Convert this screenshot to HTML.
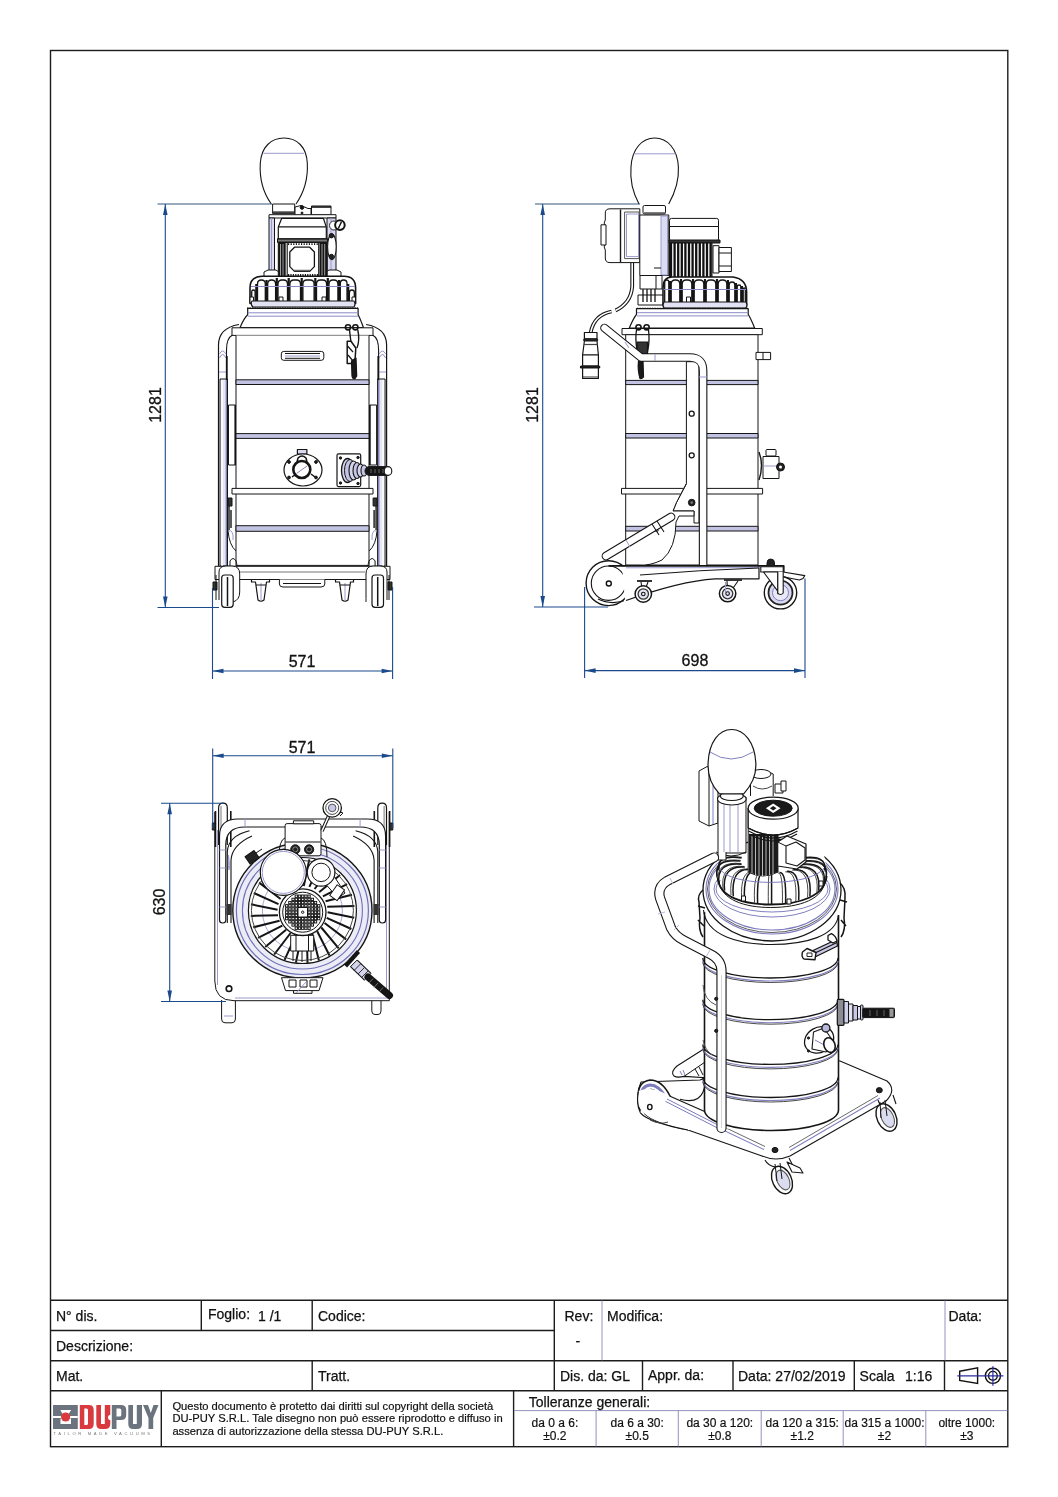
<!DOCTYPE html>
<html><head><meta charset="utf-8">
<style>
html,body{margin:0;padding:0;background:#fff;width:1058px;height:1497px;overflow:hidden}
svg{position:absolute;left:0;top:0;font-family:"Liberation Sans",sans-serif;will-change:transform}
</style></head><body>
<svg width="1058" height="1497" viewBox="0 0 1058 1497">

<!-- ===== FRONT VIEW ===== -->
<g id="front" fill="none" stroke="#151515" stroke-width="1" stroke-linejoin="round">
<!-- bulb -->
<path d="M271.3 204 C262 191 259.5 176 260.3 163 C261.5 147 271 138 284 138 C297 138 306.5 147 307.3 163 C308 176 305 191 296 204" stroke-width="1.1"/>
<line x1="263.5" y1="153.3" x2="304" y2="153.3" stroke="#9a9ad0"/>
<rect x="272.6" y="204" width="22.1" height="9.6" fill="#fff"/>
<line x1="273" y1="212.3" x2="294" y2="212.3" stroke-width="2" stroke="#444"/>
<path d="M295 207 L301 205.5 L308 208.5 L311 208.5 L311 216 L295 216 Z" fill="#fff"/>
<circle cx="302" cy="207.5" r="1.8" fill="#111"/>
<circle cx="302" cy="213" r="1" fill="#111"/>
<rect x="311.5" y="206" width="19.5" height="9" fill="#fff"/>
<line x1="311.5" y1="207" x2="331" y2="207" stroke-width="1.6"/>
<!-- posts -->
<rect x="269" y="214.7" width="67" height="3.3" fill="#fff"/>
<rect x="269" y="218" width="5.5" height="55" fill="#d8d8ee"/>
<rect x="327" y="218" width="9" height="56" fill="#d8d8ee"/>
<line x1="271.5" y1="218" x2="271.5" y2="272" stroke="#9a9ad0"/>
<line x1="331" y1="218" x2="331" y2="272" stroke="#9a9ad0"/>
<path d="M264 277 L264 272 L268 270 L276 270 L279 272 L279 277" fill="#fff"/>
<path d="M326 277 L326 272 L329 270 L337 270 L341 272 L341 277" fill="#fff"/>
<!-- motor -->
<path d="M281.7 218.3 L323.4 218.3 L326.3 227 V239 H278.3 V227 Z" fill="#fff" stroke-width="1.2"/>
<line x1="278.5" y1="226.8" x2="326" y2="226.8" stroke-width="1.3"/>
<rect x="277.5" y="238.7" width="50" height="3.8" fill="#444" stroke-width="1"/>
<line x1="278" y1="240.6" x2="327" y2="240.6" stroke="#999" stroke-width="0.7"/>
<rect x="278.3" y="242.5" width="48.9" height="34" fill="#fff"/>
<rect x="278.3" y="242.5" width="7.4" height="34" fill="#151515" stroke="none"/>
<rect x="319.5" y="242.5" width="7.7" height="34" fill="#151515" stroke="none"/>
<g stroke="#fff" stroke-width="0.6"><line x1="280.5" y1="244" x2="280.5" y2="276"/><line x1="283" y1="244" x2="283" y2="276"/><line x1="322" y1="244" x2="322" y2="276"/><line x1="324.7" y1="244" x2="324.7" y2="276"/></g>
<rect x="287.2" y="242.5" width="31.5" height="34" fill="#fff" stroke-width="1.1"/>
<line x1="288" y1="244.2" x2="318" y2="244.2" stroke-width="1.8" stroke-dasharray="1.2 1.4"/>
<line x1="288" y1="275" x2="318" y2="275" stroke-width="2" stroke-dasharray="1.2 1.2"/>
<path d="M294.5 247.2 L309.7 247.2 L314.4 252 L314.4 266.6 L309.7 271.4 L294.5 271.4 L289.8 266.6 L289.8 252 Z" stroke-width="1.3"/>
<line x1="294" y1="270.5" x2="310" y2="270.5" stroke="#666" stroke-width="1.5"/>
<!-- gauge & oval -->
<circle cx="334" cy="225.5" r="4.5" fill="#fff" stroke-width="0.9"/>
<circle cx="339.9" cy="225.1" r="4.8" fill="#fff" stroke-width="2"/>
<line x1="338.3" y1="228.5" x2="341.5" y2="221.7" stroke-width="1.5"/>
<ellipse cx="331.9" cy="246.8" rx="4.3" ry="12.8" fill="#fff" stroke-width="1.1"/>
<circle cx="331.4" cy="235.7" r="2.2" fill="#222"/>
<circle cx="331.4" cy="256.5" r="2.2" fill="#222"/>
<!-- fan cover -->
<path d="M250 303.5 V288 Q250 276.5 262 276.3 H344 Q355.6 276.5 355.6 288 V303.5 Z" fill="#fff" stroke-width="1.6"/>
<g stroke-width="1.3">
<path d="M251.7 301 V291.7 Q251.7 290 253.4 290 H253.4 Q255.1 290 255.1 291.7 V301"/>
<path d="M257.5 301 V283.9 Q257.5 280 261.4 280 H261.4 Q265.3 280 265.3 283.9 V301"/>
<path d="M267.7 301 V284.0 Q267.7 280 271.6 280 H271.6 Q275.6 280 275.6 284.0 V301"/>
<path d="M278.0 301 V284.0 Q278.0 280 282.0 280 H283.5 Q287.5 280 287.5 284.0 V301"/>
<path d="M289.9 301 V284.0 Q289.9 280 293.9 280 H296.5 Q300.5 280 300.5 284.0 V301"/>
<path d="M302.9 301 V284.0 Q302.9 280 306.9 280 H310.1 Q314.1 280 314.1 284.0 V301"/>
<path d="M316.5 301 V284.0 Q316.5 280 320.5 280 H322.6 Q326.6 280 326.6 284.0 V301"/>
<path d="M329.0 301 V284.0 Q329.0 280 333.0 280 H333.9 Q337.9 280 337.9 284.0 V301"/>
<path d="M340.3 301 V283.4 Q340.3 280 343.6 280 H343.6 Q347.0 280 347.0 283.4 V301"/>
<path d="M349.4 301 V292.5 Q349.4 290 351.9 290 H351.9 Q354.3 290 354.3 292.5 V301"/>
</g>
<g stroke-width="2.2">
<line x1="256.3" y1="284" x2="256.3" y2="301"/><line x1="266.5" y1="280" x2="266.5" y2="301"/><line x1="276.8" y1="278" x2="276.8" y2="301"/>
<line x1="288.7" y1="278" x2="288.7" y2="301"/><line x1="301.7" y1="278" x2="301.7" y2="301"/><line x1="315.3" y1="278" x2="315.3" y2="301"/>
<line x1="327.8" y1="278" x2="327.8" y2="301"/><line x1="339.1" y1="280" x2="339.1" y2="301"/><line x1="348.2" y1="284" x2="348.2" y2="301"/>
</g>
<line x1="251" y1="286.5" x2="355" y2="286.5" stroke="#8a8ac8"/>
<rect x="250" y="297" width="3.5" height="6" fill="#fff"/>
<rect x="279" y="297" width="4" height="6" fill="#fff"/>
<rect x="322" y="297" width="4" height="6" fill="#fff"/>
<rect x="352" y="297" width="3.5" height="6" fill="#fff"/>
<path d="M252 301 H354 Q356 304 354 307 H253 Q250 304 252 301 Z" fill="#e2e2f4" stroke-width="1.2"/>
<line x1="247" y1="308.3" x2="358" y2="308.3" stroke-width="1.8" stroke-dasharray="1.5 1"/>
<!-- lid -->
<path d="M247.7 308.3 H358.1 V314.7 Q360 318 363.4 327.5 H240.1 Q244 318 247.7 314.7 Z" fill="#fff" stroke-width="1.2"/>
<line x1="248" y1="312.8" x2="358" y2="312.8" stroke="#8a8ac8"/>
<line x1="248" y1="316.2" x2="358" y2="316.2" stroke="#8a8ac8"/>
<!-- frame tubes -->
<path d="M239 324.5 Q218.5 328 218.5 345 V566" stroke-width="1.2"/>
<path d="M232.5 335 Q226.5 338 226.5 350 V380" stroke-width="1.1"/>
<path d="M219.5 358 Q222.5 351 226 358" stroke="#8a8ac8"/>
<path d="M219.5 354 Q222.5 348 226 354" stroke="#9a9ad0"/>
<line x1="219" y1="372" x2="226" y2="372" stroke="#9a9ad0"/>
<rect x="220" y="379" width="7.5" height="187" fill="#e6e6f4"/>
<line x1="222" y1="380" x2="222" y2="566" stroke="#fff" stroke-width="1.5"/>
<line x1="226.3" y1="380" x2="226.3" y2="566" stroke="#7070a8" stroke-width="1.2"/>
<line x1="226.8" y1="356" x2="226.8" y2="380" stroke-width="1.8"/>
<rect x="228.5" y="405" width="7.0" height="60" fill="#fff"/>
<line x1="235.3" y1="405" x2="235.3" y2="465" stroke-width="1.8"/>
<rect x="228" y="498" width="4" height="8" fill="#333"/>
<path d="M229 506 V530 M231 510 V528" stroke-width="1.4"/>
<path d="M228 530 Q229 545 236 551" />
<path d="M228.5 532 Q231 528 233 535 V540" stroke="#9a9ad0" />
<path d="M230 566 V561 Q233 556 236 561 V566" fill="#fff"/>
<path d="M366.1 324.5 Q386.6 328 386.6 345 V566" stroke-width="1.2"/>
<path d="M372.6 335 Q378.6 338 378.6 350 V380" stroke-width="1.1"/>
<path d="M385.6 358 Q382.6 351 379.1 358" stroke="#8a8ac8"/>
<path d="M385.6 354 Q382.6 348 379.1 354" stroke="#9a9ad0"/>
<line x1="386.1" y1="372" x2="379.1" y2="372" stroke="#9a9ad0"/>
<rect x="377.6" y="379" width="7.5" height="187" fill="#e6e6f4"/>
<line x1="383.1" y1="380" x2="383.1" y2="566" stroke="#fff" stroke-width="1.5"/>
<line x1="378.8" y1="380" x2="378.8" y2="566" stroke="#7070a8" stroke-width="1.2"/>
<line x1="378.3" y1="356" x2="378.3" y2="380" stroke-width="1.8"/>
<rect x="369.6" y="405" width="7.0" height="60" fill="#fff"/>
<line x1="369.8" y1="405" x2="369.8" y2="465" stroke-width="1.8"/>
<rect x="373.1" y="498" width="4.0" height="8" fill="#333"/>
<path d="M376.1 506 V530 M374.1 510 V528" stroke-width="1.4"/>
<path d="M377.1 530 Q376.1 545 369.1 551" />
<path d="M376.6 532 Q374.1 528 372.1 535 V540" stroke="#9a9ad0" />
<path d="M375.1 566 V561 Q372.1 556 369.1 561 V566" fill="#fff"/>
<!-- rim & tank -->
<rect x="232" y="327.8" width="141" height="7.6" fill="#fff"/>
<path d="M236 335.4 V560 Q236 571 250 571 L355 571 Q369 571 369 560 V335.4" fill="#fff"/>
<rect x="281.3" y="351.4" width="42.5" height="8.9" rx="2.5" fill="#fff"/>
<line x1="285" y1="353.5" x2="320" y2="353.5"/>
<line x1="285" y1="358.3" x2="320" y2="358.3"/>
<line x1="285" y1="356" x2="320" y2="356" stroke="#9a9ad0"/>
<rect x="236" y="379.8" width="133" height="4.7" fill="#c2c2e2"/>
<rect x="236" y="433.6" width="133" height="4.8" fill="#c2c2e2"/>
<rect x="236" y="525.7" width="133" height="5.6" fill="#c2c2e2"/>
<rect x="232" y="488.4" width="141" height="5.6" fill="#fff"/>
<!-- latch -->
<circle cx="348" cy="327.3" r="2.6" stroke-width="1.6"/>
<circle cx="355.4" cy="327.3" r="2.6" stroke-width="1.6"/>
<path d="M349.5 330 L351.5 347 M357.8 330 Q360 340 357 348" stroke-width="1.4"/>
<path d="M347.2 341.3 H351 L355.8 348 L355 361 L352.4 363.4 H347.2 Z" fill="#fff" stroke-width="1.5"/>
<path d="M347.5 346 L353 352 M348 355 L353 361" stroke-width="1.2"/>
<path d="M351.5 361 L352 376 Q353 380 355 378.6 L356.7 376 L356 358 Z" fill="#1a1a1a" stroke-width="1.2"/>
<!-- inlet -->
<rect x="297.4" y="449.5" width="9.5" height="4.5" fill="#d8d8ee" stroke-width="1.2"/>
<ellipse cx="303" cy="470" rx="19" ry="16" fill="#fff" stroke-width="1.2"/>
<path d="M296 466 L298 458 Q302 454 306 458 L308 466" fill="#fff" stroke-width="1.5"/>
<circle cx="301.8" cy="469.5" r="8.5" fill="#fff" stroke-width="2.6"/>
<line x1="296.5" y1="473.5" x2="307" y2="466" stroke="#8888bb"/>
<path d="M292 477 L296 474 M311 474 L315 477" stroke-width="1.5"/>
<circle cx="289" cy="462" r="1.4" fill="#222"/>
<circle cx="316" cy="462" r="1.4" fill="#222"/>
<circle cx="289" cy="477.5" r="1.4" fill="#222"/>
<circle cx="316" cy="477.5" r="1.4" fill="#222"/>
<!-- socket -->
<rect x="337" y="453.9" width="23.7" height="32.7" rx="1.5" fill="#fff" stroke-width="1.2"/>
<circle cx="340.5" cy="458" r="1.2" fill="#222"/><circle cx="358" cy="457.5" r="1.2" fill="#222"/>
<circle cx="340.5" cy="483" r="1.2" fill="#222"/><circle cx="358" cy="483.5" r="1.2" fill="#222"/>
<ellipse cx="347.5" cy="470.5" rx="6" ry="12" fill="#d4d4ec" stroke-width="1.3"/>
<ellipse cx="350" cy="470.5" rx="5.5" ry="11" fill="#c4c4e4" stroke-width="1"/>
<ellipse cx="353.5" cy="470.5" rx="4.5" ry="9.5" fill="#d4d4ec" stroke-width="1.1"/>
<ellipse cx="357" cy="470.5" rx="4" ry="8" fill="#c4c4e4" stroke-width="1.1"/>
<ellipse cx="360.5" cy="470.5" rx="3.5" ry="6.5" fill="#d4d4ec" stroke-width="1.1"/>
<ellipse cx="364" cy="470.5" rx="3" ry="5.5" fill="#c4c4e4" stroke-width="1.1"/>
<rect x="365" y="466.6" width="26" height="8.8" rx="4.4" fill="#151515"/>
<ellipse cx="388" cy="471" rx="3.8" ry="4.4" fill="#fff" stroke-width="1.1"/>
<g stroke="#888" stroke-width="0.7"><line x1="371" y1="469" x2="371" y2="473"/><line x1="375" y1="469" x2="375" y2="473"/><line x1="379" y1="469" x2="379" y2="473"/><line x1="383" y1="469" x2="383" y2="473"/></g>
<!-- base & wheels -->
<path d="M236 565.4 H369" />
<rect x="215" y="566.3" width="175" height="13.2" fill="#fff"/>
<path d="M240 572 H365" stroke="#777"/>
<path d="M279.4 579.5 V584 Q279.4 587 283 587 H321 Q324.8 587 324.8 584 V579.5" fill="#fff"/>
<line x1="283" y1="583.5" x2="321" y2="583.5"/>
<path d="M251.5 579.5 H269.5 V582 H266.5 L264 600 Q261 602.5 258 600 L255.5 582 H251.5 Z" fill="#fff" stroke-width="1.2"/><line x1="261" y1="583" x2="261" y2="600" stroke="#9a9ad0"/>
<path d="M335.5 579.5 H353.5 V582 H350.5 L348 600 Q345 602.5 342 600 L339.5 582 H335.5 Z" fill="#fff" stroke-width="1.2"/><line x1="345" y1="583" x2="345" y2="600" stroke="#9a9ad0"/>
<line x1="256" y1="585" x2="266" y2="585"/><line x1="340" y1="585" x2="350" y2="585"/>
<!-- left wheel -->
<path d="M219 600 V572 Q219 566 226 566 H232 Q239.7 566 239.7 574 V592 Q239.7 600 233 602" fill="#fff"/>
<rect x="221.7" y="575" width="11.5" height="32.3" rx="3" fill="#fff" stroke-width="1.2"/>
<line x1="227.5" y1="577" x2="227.5" y2="606" stroke-width="1.5"/>
<rect x="213" y="582" width="4" height="8" fill="#333"/>
<line x1="216" y1="575" x2="216" y2="600"/>
<!-- right wheel -->
<path d="M366 602 Q366 600 366 592 V574 Q366 566 373 566 H380 Q387 566 387 572 V600" fill="#fff"/>
<rect x="372" y="575" width="11.5" height="32.3" rx="3" fill="#fff" stroke-width="1.2"/>
<line x1="377.7" y1="577" x2="377.7" y2="606" stroke-width="1.5"/>
<rect x="388" y="582" width="4" height="8" fill="#333"/>
<line x1="389" y1="575" x2="389" y2="600"/>
</g>
<!-- front dims -->
<g stroke="#1b4a8c" stroke-width="1.1" fill="#1b4a8c">
<line x1="157.5" y1="204" x2="272" y2="204" stroke="#34557e"/>
<line x1="157.5" y1="607.5" x2="219" y2="607.5"/>
<line x1="165.3" y1="204" x2="165.3" y2="607.5"/>
<path d="M165.3 204 L163 215 L167.6 215 Z" stroke="none"/>
<path d="M165.3 607.5 L163 596.5 L167.6 596.5 Z" stroke="none"/>
<line x1="212.5" y1="588" x2="212.5" y2="679"/>
<line x1="392.6" y1="587" x2="392.6" y2="679"/>
<line x1="212.5" y1="671" x2="392.6" y2="671"/>
<path d="M212.5 671 L223.5 668.7 L223.5 673.3 Z" stroke="none"/>
<path d="M392.6 671 L381.6 668.7 L381.6 673.3 Z" stroke="none"/>
</g>
<g fill="#111" font-size="16" stroke="#111" stroke-width="0.3">
<text x="288.7" y="666.6">571</text>
<text transform="translate(160.5 405) rotate(-90)" text-anchor="middle">1281</text>
</g>


<!-- ===== SIDE VIEW ===== -->
<g id="side" fill="none" stroke="#151515" stroke-width="1" stroke-linejoin="round">
<!-- cable -->
<path d="M632.2 262 V286.6 Q631 303 615.5 310.5" stroke-width="3.8"/>
<path d="M632.2 262 V286.6 Q631 303 615.5 310.5" stroke="#fff" stroke-width="1.6"/>
<path d="M611.5 311.5 Q594 315 590.7 332.5" stroke-width="3.8"/>
<path d="M611.5 311.5 Q594 315 590.7 332.5" stroke="#fff" stroke-width="1.6"/>
<!-- plug -->
<rect x="584.4" y="332.5" width="12.6" height="6.4" fill="#fff" stroke-width="1.2"/>
<rect x="583.8" y="339" width="13.8" height="1.8" fill="#333"/>
<path d="M584.4 341 H597 L598.4 355 H582.6 Z" fill="#fff" stroke-width="1.2"/>
<line x1="584" y1="344.5" x2="597.5" y2="344.5" stroke="#444" stroke-width="1.2"/>
<rect x="582.6" y="355" width="15.8" height="11" fill="#fff" stroke-width="1.2"/>
<rect x="580.4" y="366" width="19.4" height="2" rx="1" fill="#222" stroke-width="1.2"/>
<rect x="582.6" y="368" width="15.8" height="10.5" fill="#fff" stroke-width="1.2"/>
<line x1="583" y1="377" x2="598" y2="377" stroke="#333"/>
<!-- bulb -->
<path d="M639 204 C632 191 630 178 631 167 C632 149 642 138 654.7 138 C667.5 138 677.5 149 678.4 167 C679 178 676 191 668.7 204" stroke-width="1.1"/>
<line x1="634" y1="153.8" x2="675.5" y2="153.8" stroke="#9a9ad0"/>
<rect x="643" y="205.5" width="22.5" height="8.5" rx="1.5" fill="#fff"/>
<line x1="644" y1="213" x2="665" y2="213" stroke="#555" stroke-width="1.5"/>
<!-- control box -->
<path d="M610 208.8 H639.8 V262.6 H610 Q605.3 262.6 605.3 258 V250 Q603 247 605.3 244 V226 Q603 223 605.3 220 V213 Q605.3 208.8 610 208.8 Z" fill="#fff"/>
<rect x="624.6" y="212" width="14.4" height="46.6" fill="#fff" stroke="#555"/>
<rect x="626.5" y="214" width="12" height="42.6" fill="none" stroke="#9a9ad0"/>
<line x1="620.5" y1="209.5" x2="620.5" y2="262" stroke-width="1.4"/>
<rect x="601" y="224.8" width="5" height="20.2" fill="#fff"/>
<!-- column -->
<rect x="639.8" y="215" width="29" height="60.5" fill="#fff"/>
<rect x="661" y="216" width="6.5" height="59" fill="#dcdcf0" stroke="#9a9ad0"/>
<path d="M640 275.5 H662 V289 H640 Z" fill="#fff"/>
<line x1="656" y1="276" x2="656" y2="289"/>
<path d="M643 289 V302 M647 289 V302 M651 289 V302 M655 289 V302" stroke-width="1.3"/>
<path d="M638 295 H664 V305 H638 Z" fill="none"/>
<line x1="654" y1="268" x2="661" y2="268"/>
<!-- motor -->
<rect x="669.5" y="218.4" width="49" height="22.6" rx="2" fill="#fff"/>
<line x1="670" y1="226.5" x2="718" y2="226.5"/>
<rect x="669" y="240" width="51" height="3" fill="#333"/>
<rect x="669.5" y="243" width="42.5" height="35" fill="#fff"/>
<g stroke="#111" stroke-width="2.3"><line x1="671.0" y1="243" x2="671.0" y2="278"/><line x1="674.6" y1="243" x2="674.6" y2="278"/><line x1="678.2" y1="243" x2="678.2" y2="278"/><line x1="681.8" y1="243" x2="681.8" y2="278"/><line x1="685.4" y1="243" x2="685.4" y2="278"/><line x1="689.0" y1="243" x2="689.0" y2="278"/><line x1="692.6" y1="243" x2="692.6" y2="278"/><line x1="696.2" y1="243" x2="696.2" y2="278"/><line x1="699.8" y1="243" x2="699.8" y2="278"/><line x1="703.4" y1="243" x2="703.4" y2="278"/><line x1="707.0" y1="243" x2="707.0" y2="278"/><line x1="710.6" y1="243" x2="710.6" y2="278"/></g>
<rect x="713" y="245.7" width="6" height="27.3" fill="#fff"/>
<rect x="719" y="247.5" width="12.4" height="24" fill="#fff"/>
<line x1="719" y1="253" x2="731.4" y2="253"/><line x1="719" y1="266" x2="731.4" y2="266"/>
<!-- fan cover -->
<path d="M663 305 V288 Q663 277 672 277 H733 Q746.6 279 746.6 292 V305 Z" fill="#fff" stroke-width="1.6"/>
<g stroke-width="1.3">
<path d="M664.7 302 V282.0 Q664.7 280 666.8 280 H666.8 Q668.8 280 668.8 282.0 V302"/>
<path d="M671.2 302 V284.0 Q671.2 280 675.2 280 H675.8 Q679.8 280 679.8 284.0 V302"/>
<path d="M682.2 302 V284.0 Q682.2 280 686.2 280 H687.8 Q691.8 280 691.8 284.0 V302"/>
<path d="M694.2 302 V284.0 Q694.2 280 698.2 280 H699.8 Q703.8 280 703.8 284.0 V302"/>
<path d="M706.2 302 V284.0 Q706.2 280 710.2 280 H711.8 Q715.8 280 715.8 284.0 V302"/>
<path d="M718.2 302 V284.0 Q718.2 280 722.2 280 H722.8 Q726.8 280 726.8 284.0 V302"/>
<path d="M729.2 302 V284.8 Q729.2 282 732.0 282 H732.0 Q734.8 282 734.8 284.8 V302"/>
<path d="M737.2 302 V286.8 Q737.2 285 739.0 285 H739.0 Q740.8 285 740.8 286.8 V302"/>
<path d="M743.2 302 V289.0 Q743.2 288 744.2 288 H744.2 Q745.3 288 745.3 289.0 V302"/>
</g>
<g stroke-width="2.1">
<line x1="670" y1="281" x2="670" y2="302"/><line x1="681" y1="279" x2="681" y2="302"/><line x1="693" y1="279" x2="693" y2="302"/><line x1="705" y1="279" x2="705" y2="302"/><line x1="717" y1="279" x2="717" y2="302"/><line x1="728" y1="280" x2="728" y2="302"/><line x1="736" y1="283" x2="736" y2="302"/><line x1="742" y1="286" x2="742" y2="302"/>
</g>
<line x1="664" y1="289.5" x2="746" y2="289.5" stroke="#8a8ac8"/>
<rect x="686.5" y="297" width="4" height="6" fill="#fff"/>
<path d="M664 302 H746 Q748 305 746 308 H664 Q662 305 664 302 Z" fill="#e2e2f4" stroke-width="1.2"/>
<line x1="637" y1="308.5" x2="748" y2="308.5" stroke-width="1.6" stroke-dasharray="1.5 1"/>
<!-- lid -->
<path d="M636.5 308.7 H748.2 V314.3 Q751 319 754.6 328 H629.3 Q633 319 636.5 314.3 Z" fill="#fff" stroke-width="1.2"/>
<line x1="637" y1="312.7" x2="748" y2="312.7" stroke="#8a8ac8"/>
<line x1="637" y1="315.9" x2="748" y2="315.9" stroke="#8a8ac8"/>
<rect x="622" y="328.5" width="140.3" height="6.2" fill="#fff"/>
<!-- tank -->
<rect x="625.7" y="334.7" width="132.3" height="230.3" fill="#fff"/>
<rect x="625.7" y="380.4" width="132.3" height="4.2" fill="#c2c2e2"/>
<rect x="625.7" y="433.5" width="132.3" height="4.5" fill="#c2c2e2"/>
<rect x="625.7" y="526.3" width="132.3" height="4.7" fill="#c2c2e2"/>
<rect x="621.5" y="488.4" width="141.1" height="5.6" fill="#fff"/>
<rect x="756" y="352.4" width="14.6" height="7.2" fill="#fff"/>
<line x1="763" y1="352.4" x2="763" y2="359.6"/>
<!-- right socket -->
<path d="M759 452 Q764 465 759 480" stroke-width="1.4"/>
<rect x="766" y="449.5" width="10" height="6.5" rx="1" fill="#fff"/>
<rect x="763" y="456.5" width="16" height="22" fill="#fff"/>
<line x1="763" y1="466" x2="779" y2="466" stroke="#9a9ad0"/>
<circle cx="780.5" cy="467" r="4" fill="#222"/>
<circle cx="780.5" cy="467" r="1.5" fill="#fff" stroke="none"/>
<!-- clamp -->
<circle cx="638.5" cy="327.3" r="2.6" stroke-width="1.6"/>
<circle cx="646.6" cy="327.3" r="2.6" stroke-width="1.6"/>
<path d="M636.5 330 Q635 338 637 350 M648.5 330 Q650 340 647.5 352" stroke-width="1.3"/>
<path d="M637 342 H647.5 V354 H637 Z" fill="#333" stroke-width="1.2"/>
<path d="M638.5 361 Q637.5 370 640 378.5 Q642 379 643.5 377 L643 361 Z" fill="#1a1a1a" stroke-width="1.2"/>
<!-- handle tube -->
<path d="M686.4 361.7 H699 V523 H694 V511 H673 L676.4 502.6 L686.4 483.7 Z" fill="#fff"/>
<path d="M604.5 328 L641 357.5 H690 Q703.1 357.5 703.1 371 V565.5" stroke-width="8.6" stroke-linecap="round"/>
<path d="M604.5 328 L641 357.5 H690 Q703.1 357.5 703.1 371 V565.5" stroke="#fff" stroke-width="6.4" stroke-linecap="round"/>
<line x1="625" y1="342" x2="629" y2="348" stroke="#9a9ad0"/>
<line x1="655" y1="354" x2="655" y2="361" stroke="#9a9ad0"/>
<line x1="699" y1="377" x2="707" y2="377" stroke="#9a9ad0"/>
<circle cx="691.7" cy="413.7" r="2.5" stroke-width="1.3"/>
<circle cx="691.7" cy="455.3" r="2.5" stroke-width="1.3"/>
<!-- lever -->
<path d="M686.4 483.7 L676.4 502.6 L673 511 H694 V516 H679 L676 522 Q676 548 662 560 Q650 566 638.5 565" fill="#fff"/>
<path d="M606 556 L671 517" stroke-width="8.8" stroke-linecap="round"/>
<path d="M606 556 L671 517" stroke="#fff" stroke-width="6.6" stroke-linecap="round"/>
<path d="M652 524 L659 535 M657 521 L664 532" stroke-width="1.1"/>
<line x1="626" y1="540" x2="630" y2="547" stroke="#9a9ad0"/>
<circle cx="691.7" cy="502.6" r="3.3" fill="#222"/>
<circle cx="691.7" cy="502.6" r="1.3" fill="#777" stroke="none"/>
<!-- chassis -->
<circle cx="608.5" cy="583.2" r="22.4" fill="#fff" stroke-width="1.4"/>
<circle cx="608.5" cy="583.2" r="17.2" fill="#fff" stroke-width="1.1"/>
<path d="M622 566.2 H783.7 V572 H759 V578.8 H715 Q680 581 625 600" fill="#fff" stroke="none"/>
<path d="M608.5 565.8 H783.7 V572" stroke-width="1.8"/>
<path d="M759 566.2 V578.8 H715 Q680 581 626 600.5" stroke-width="1.2"/>
<path d="M626 567.8 L763.5 567.6" stroke="#9a9ad0"/>
<path d="M640 575 Q700 570 759 568" stroke-width="1"/>
<path d="M624 600.8 Q610 605 598 599" stroke-width="1.2"/>
<circle cx="608.8" cy="583.5" r="2.5" stroke-width="1.4"/>
<!-- small caster 1 -->
<path d="M637 580 H652 V582 H637 Z" fill="#333" stroke="none"/>
<path d="M641 582 L643 594 M648 582 L645 590" stroke-width="1.1"/>
<circle cx="643.3" cy="594" r="8.2" fill="#fff" stroke-width="1.5"/>
<circle cx="643.3" cy="594" r="5.2" fill="#e4e4f4" stroke="#333" stroke-width="1.3"/>
<circle cx="643.3" cy="594" r="1.8" stroke-width="1.1"/>
<!-- small caster 2 -->
<path d="M724 578.8 H742 V581 H724 Z" fill="#333" stroke="none"/>
<path d="M727 581 L727.6 593 M738 581 L731 591" stroke-width="1.1"/>
<circle cx="727.6" cy="593.6" r="8.2" fill="#fff" stroke-width="1.5"/>
<circle cx="727.6" cy="593.6" r="5.2" fill="#e4e4f4" stroke="#333" stroke-width="1.3"/>
<circle cx="727.6" cy="593.6" r="1.8" stroke-width="1.1"/>
<line x1="725.5" y1="582" x2="725.5" y2="592" stroke="#9a9ad0"/>
<!-- right caster -->
<path d="M770.7 559 Q774.5 559 774.5 563 V566 H767 V563 Q767 559 770.7 559 Z" fill="#222"/>
<path d="M760.8 566.7 H783.2 V572 H760.8 Z" fill="#fff" stroke-width="1.1"/>
<path d="M783.2 572 L804.8 575.6 L803 578.5 L799.4 580 L784 577" fill="#fff" stroke-width="1.1"/>
<circle cx="780.5" cy="592.7" r="16.2" fill="#fff" stroke-width="1.4"/>
<circle cx="780.5" cy="592.7" r="12" fill="#d8d8ee" stroke="#222" stroke-width="1.8"/>
<circle cx="780.5" cy="592.7" r="8" fill="#e8e8f6" stroke="#8080c0"/>
<path d="M763.5 572 L779.6 593.6 L777.8 593.6 L777.8 572 Z" fill="#fff" stroke-width="1.1"/>
<path d="M777.8 572 V593 Q780.5 596 783.2 593 V572" fill="#fff" stroke-width="1.1"/>
</g>
<!-- side dims -->
<g stroke="#1b4a8c" stroke-width="1.1" fill="#1b4a8c">
<line x1="535" y1="204" x2="640" y2="204" stroke="#34557e"/>
<line x1="534" y1="607" x2="608" y2="607"/>
<line x1="542.7" y1="204" x2="542.7" y2="607"/>
<path d="M542.7 204 L540.4 215 L545 215 Z" stroke="none"/>
<path d="M542.7 607 L540.4 596 L545 596 Z" stroke="none"/>
<line x1="584.6" y1="587" x2="584.6" y2="678"/>
<line x1="805" y1="578.4" x2="805" y2="678"/>
<line x1="584.6" y1="670.6" x2="805" y2="670.6"/>
<path d="M584.6 670.6 L595.6 668.3 L595.6 672.9 Z" stroke="none"/>
<path d="M805 670.6 L794 668.3 L794 672.9 Z" stroke="none"/>
</g>
<g fill="#111" font-size="16" stroke="#111" stroke-width="0.3">
<text x="681.6" y="666.3">698</text>
<text transform="translate(538 405) rotate(-90)" text-anchor="middle">1281</text>
</g>


<!-- ===== TOP VIEW ===== -->
<g id="top" fill="none" stroke="#151515" stroke-width="1" stroke-linejoin="round">
<!-- casters below base -->
<path d="M221.6 1000 V1019 Q221.6 1022.8 225 1022.8 H232 Q235.4 1022.8 235.4 1019 V1000" fill="#fff"/>
<line x1="224" y1="1016" x2="233" y2="1016" stroke="#9a9ad0"/>
<path d="M371.8 1000 V1011 Q371.8 1014.5 375 1014.5 H378 Q381 1014.5 381 1011 V1000" fill="#fff"/>
<!-- base plate -->
<path d="M214.8 812 V981 Q214.8 1000.7 234 1000.7 H389.3 V812" fill="#fff"/>
<line x1="217.5" y1="830" x2="217.5" y2="985" stroke="#9a9ad0"/>
<line x1="386.5" y1="830" x2="386.5" y2="995" stroke="#9a9ad0"/>
<line x1="235" y1="998" x2="388" y2="998" stroke="#9a9ad0"/>
<circle cx="229" cy="988.7" r="2.8" stroke-width="1.6"/>
<!-- side wheels -->
<path d="M218.6 845 V808 Q218.6 803.2 223 803.2 Q227.3 803.2 227.3 808 V845" fill="#fff" stroke-width="1.2"/>
<line x1="221" y1="806" x2="221" y2="842" stroke="#555" stroke-width="0.8"/>
<path d="M215.5 811 V847 M230.8 811 V847" stroke-width="1.6"/>
<rect x="212.3" y="823" width="3" height="7" fill="#333"/>
<path d="M386.5 845 V808 Q386.5 803.2 382.1 803.2 Q377.8 803.2 377.8 808 V845" fill="#fff" stroke-width="1.2"/>
<line x1="384.1" y1="806" x2="384.1" y2="842" stroke="#555" stroke-width="0.8"/>
<path d="M389.6 811 V847 M374.3 811 V847" stroke-width="1.6"/>
<rect x="389.8" y="823" width="3" height="7" fill="#333"/>
<!-- handle U frame -->
<path d="M219.5 920 V836 Q219.5 819 238 819 H367.1 Q385.6 819 385.6 836 V920 Q385.6 923 382.5 923 Q379.3 923 379.3 920 V845 Q379.3 827 360.1 827 H245 Q225.8 827 225.8 845 V920 Q225.8 923 222.6 923 Q219.5 923 219.5 920 Z" fill="#fff" stroke-width="1.2"/>
<g stroke="#9a9ad0"><line x1="219.5" y1="850" x2="225.8" y2="850"/><line x1="219.5" y1="868" x2="225.8" y2="868"/><line x1="219.5" y1="907" x2="225.8" y2="907"/><line x1="245" y1="819" x2="245" y2="827"/>
<line x1="385.6" y1="850" x2="379.3" y2="850"/><line x1="385.6" y1="868" x2="379.3" y2="868"/><line x1="385.6" y1="907" x2="379.3" y2="907"/><line x1="360.1" y1="819" x2="360.1" y2="827"/></g>
<path d="M227.3 923 V852 Q228 836 249.5 830.8 M231 923 V860 Q232 845 252 836" stroke-width="1.1"/>
<path d="M377.8 923 V852 Q377.1 836 355.6 830.8 M374.1 923 V860 Q373.1 845 353.1 836" stroke-width="1.1"/>
<path d="M228.5 855 Q230 868 229 870 Q228 868 228.5 855" stroke="#9a9ad0"/>
<rect x="226.5" y="904" width="5" height="11" fill="#333" stroke="none"/>
<rect x="373.6" y="904" width="5" height="11" fill="#333" stroke="none"/>
<!-- ring -->
<ellipse cx="302.4" cy="910.5" rx="69.6" ry="67.5" fill="#ececf7" stroke-width="1.4"/>
<ellipse cx="302.4" cy="910.5" rx="66" ry="64" fill="none" stroke="#7070b8" stroke-width="1.2"/>
<ellipse cx="302.4" cy="910.5" rx="60" ry="58.5" fill="none" stroke="#7070b8" stroke-width="1.1"/>
<ellipse cx="302.4" cy="910.5" rx="54" ry="53" fill="#fff" stroke-width="1.2"/>
<ellipse cx="302.4" cy="911" rx="40" ry="40" fill="none" stroke="#a8a8d8"/>
<path d="M327.6 912.2 L354.2 917.7 M326.7 917.8 L351.4 929.0 M324.6 923.0 L346.1 939.4 M321.3 927.5 L338.7 948.4 M317.2 931.3 L329.5 955.5 M312.3 934.0 L318.9 960.4 M306.9 935.6 L307.5 962.8 M301.4 936.0 L295.9 962.6 M295.8 935.1 L284.6 959.8 M290.6 933.0 L274.2 954.5 M286.1 929.7 L265.2 947.1 M282.3 925.6 L258.1 937.9 M279.6 920.7 L253.2 927.3 M278.0 915.3 L250.8 915.9 M277.6 909.8 L251.0 904.3 M278.5 904.2 L253.8 893.0 M280.6 899.0 L259.1 882.6 M283.9 894.5 L266.5 873.6 M288.0 890.7 L275.7 866.5 M292.9 888.0 L286.3 861.6 M298.3 886.4 L297.7 859.2 M303.8 886.0 L309.3 859.4 M309.4 886.9 L320.6 862.2 M314.6 889.0 L331.0 867.5 M319.1 892.3 L340.0 874.9 M322.9 896.4 L347.1 884.1 M325.6 901.3 L352.0 894.7 M327.2 906.7 L354.4 906.1" stroke-width="2"/>
<ellipse cx="302.4" cy="910.5" rx="51" ry="50" fill="none" stroke="#444"/>
<!-- bottom tab -->
<path d="M281.5 977.7 H323 L319 990.6 H285.5 Z" fill="#fff"/>
<rect x="289" y="980" width="7" height="7" fill="none"/><rect x="300" y="980" width="7" height="7" fill="none"/><rect x="310" y="980" width="7" height="7" fill="none"/>
<path d="M293.5 990.6 V993.3 H312 V990.6" />
<path d="M296 993 L306 982" stroke="#9a9ad0"/>
<!-- bottom block -->
<rect x="290.7" y="935.3" width="23" height="15.7" fill="#fff"/>
<line x1="296" y1="935.3" x2="296" y2="951"/><line x1="308.5" y1="935.3" x2="308.5" y2="951"/>
<path d="M293 951 V961 M302 951 V962 M311 951 V961"/>
<!-- motor -->
<circle cx="302.7" cy="912.2" r="23.3" fill="#fff" stroke-width="1.3"/>
<circle cx="302.7" cy="912.2" r="20" fill="#fff"/>
<g fill="#151515" stroke="none">
<rect x="285.05" y="904.15" width="3.3" height="3.3"/>
<rect x="285.05" y="907.35" width="3.3" height="3.3"/>
<rect x="285.05" y="910.55" width="3.3" height="3.3"/>
<rect x="285.05" y="913.75" width="3.3" height="3.3"/>
<rect x="285.05" y="916.95" width="3.3" height="3.3"/>
<rect x="288.25" y="900.95" width="3.3" height="3.3"/>
<rect x="288.25" y="904.15" width="3.3" height="3.3"/>
<rect x="288.25" y="907.35" width="3.3" height="3.3"/>
<rect x="288.25" y="910.55" width="3.3" height="3.3"/>
<rect x="288.25" y="913.75" width="3.3" height="3.3"/>
<rect x="288.25" y="916.95" width="3.3" height="3.3"/>
<rect x="288.25" y="920.15" width="3.3" height="3.3"/>
<rect x="291.45" y="897.75" width="3.3" height="3.3"/>
<rect x="291.45" y="900.95" width="3.3" height="3.3"/>
<rect x="291.45" y="904.15" width="3.3" height="3.3"/>
<rect x="291.45" y="907.35" width="3.3" height="3.3"/>
<rect x="291.45" y="910.55" width="3.3" height="3.3"/>
<rect x="291.45" y="913.75" width="3.3" height="3.3"/>
<rect x="291.45" y="916.95" width="3.3" height="3.3"/>
<rect x="291.45" y="920.15" width="3.3" height="3.3"/>
<rect x="291.45" y="923.35" width="3.3" height="3.3"/>
<rect x="294.65" y="894.55" width="3.3" height="3.3"/>
<rect x="294.65" y="897.75" width="3.3" height="3.3"/>
<rect x="294.65" y="900.95" width="3.3" height="3.3"/>
<rect x="294.65" y="904.15" width="3.3" height="3.3"/>
<rect x="294.65" y="907.35" width="3.3" height="3.3"/>
<rect x="294.65" y="910.55" width="3.3" height="3.3"/>
<rect x="294.65" y="913.75" width="3.3" height="3.3"/>
<rect x="294.65" y="916.95" width="3.3" height="3.3"/>
<rect x="294.65" y="920.15" width="3.3" height="3.3"/>
<rect x="294.65" y="923.35" width="3.3" height="3.3"/>
<rect x="294.65" y="926.55" width="3.3" height="3.3"/>
<rect x="297.85" y="894.55" width="3.3" height="3.3"/>
<rect x="297.85" y="897.75" width="3.3" height="3.3"/>
<rect x="297.85" y="900.95" width="3.3" height="3.3"/>
<rect x="297.85" y="904.15" width="3.3" height="3.3"/>
<rect x="297.85" y="907.35" width="3.3" height="3.3"/>
<rect x="297.85" y="910.55" width="3.3" height="3.3"/>
<rect x="297.85" y="913.75" width="3.3" height="3.3"/>
<rect x="297.85" y="916.95" width="3.3" height="3.3"/>
<rect x="297.85" y="920.15" width="3.3" height="3.3"/>
<rect x="297.85" y="923.35" width="3.3" height="3.3"/>
<rect x="297.85" y="926.55" width="3.3" height="3.3"/>
<rect x="301.05" y="894.55" width="3.3" height="3.3"/>
<rect x="301.05" y="897.75" width="3.3" height="3.3"/>
<rect x="301.05" y="900.95" width="3.3" height="3.3"/>
<rect x="301.05" y="904.15" width="3.3" height="3.3"/>
<rect x="301.05" y="907.35" width="3.3" height="3.3"/>
<rect x="301.05" y="910.55" width="3.3" height="3.3"/>
<rect x="301.05" y="913.75" width="3.3" height="3.3"/>
<rect x="301.05" y="916.95" width="3.3" height="3.3"/>
<rect x="301.05" y="920.15" width="3.3" height="3.3"/>
<rect x="301.05" y="923.35" width="3.3" height="3.3"/>
<rect x="301.05" y="926.55" width="3.3" height="3.3"/>
<rect x="304.25" y="894.55" width="3.3" height="3.3"/>
<rect x="304.25" y="897.75" width="3.3" height="3.3"/>
<rect x="304.25" y="900.95" width="3.3" height="3.3"/>
<rect x="304.25" y="904.15" width="3.3" height="3.3"/>
<rect x="304.25" y="907.35" width="3.3" height="3.3"/>
<rect x="304.25" y="910.55" width="3.3" height="3.3"/>
<rect x="304.25" y="913.75" width="3.3" height="3.3"/>
<rect x="304.25" y="916.95" width="3.3" height="3.3"/>
<rect x="304.25" y="920.15" width="3.3" height="3.3"/>
<rect x="304.25" y="923.35" width="3.3" height="3.3"/>
<rect x="304.25" y="926.55" width="3.3" height="3.3"/>
<rect x="307.45" y="894.55" width="3.3" height="3.3"/>
<rect x="307.45" y="897.75" width="3.3" height="3.3"/>
<rect x="307.45" y="900.95" width="3.3" height="3.3"/>
<rect x="307.45" y="904.15" width="3.3" height="3.3"/>
<rect x="307.45" y="907.35" width="3.3" height="3.3"/>
<rect x="307.45" y="910.55" width="3.3" height="3.3"/>
<rect x="307.45" y="913.75" width="3.3" height="3.3"/>
<rect x="307.45" y="916.95" width="3.3" height="3.3"/>
<rect x="307.45" y="920.15" width="3.3" height="3.3"/>
<rect x="307.45" y="923.35" width="3.3" height="3.3"/>
<rect x="307.45" y="926.55" width="3.3" height="3.3"/>
<rect x="310.65" y="897.75" width="3.3" height="3.3"/>
<rect x="310.65" y="900.95" width="3.3" height="3.3"/>
<rect x="310.65" y="904.15" width="3.3" height="3.3"/>
<rect x="310.65" y="907.35" width="3.3" height="3.3"/>
<rect x="310.65" y="910.55" width="3.3" height="3.3"/>
<rect x="310.65" y="913.75" width="3.3" height="3.3"/>
<rect x="310.65" y="916.95" width="3.3" height="3.3"/>
<rect x="310.65" y="920.15" width="3.3" height="3.3"/>
<rect x="310.65" y="923.35" width="3.3" height="3.3"/>
<rect x="313.85" y="900.95" width="3.3" height="3.3"/>
<rect x="313.85" y="904.15" width="3.3" height="3.3"/>
<rect x="313.85" y="907.35" width="3.3" height="3.3"/>
<rect x="313.85" y="910.55" width="3.3" height="3.3"/>
<rect x="313.85" y="913.75" width="3.3" height="3.3"/>
<rect x="313.85" y="916.95" width="3.3" height="3.3"/>
<rect x="313.85" y="920.15" width="3.3" height="3.3"/>
<rect x="317.05" y="904.15" width="3.3" height="3.3"/>
<rect x="317.05" y="907.35" width="3.3" height="3.3"/>
<rect x="317.05" y="910.55" width="3.3" height="3.3"/>
<rect x="317.05" y="913.75" width="3.3" height="3.3"/>
<rect x="317.05" y="916.95" width="3.3" height="3.3"/>
</g>
<g fill="#fff" stroke="none">
<rect x="286.00" y="905.10" width="1.4" height="1.4"/>
<rect x="286.00" y="908.30" width="1.4" height="1.4"/>
<rect x="286.00" y="911.50" width="1.4" height="1.4"/>
<rect x="286.00" y="914.70" width="1.4" height="1.4"/>
<rect x="286.00" y="917.90" width="1.4" height="1.4"/>
<rect x="289.20" y="901.90" width="1.4" height="1.4"/>
<rect x="289.20" y="905.10" width="1.4" height="1.4"/>
<rect x="289.20" y="908.30" width="1.4" height="1.4"/>
<rect x="289.20" y="911.50" width="1.4" height="1.4"/>
<rect x="289.20" y="914.70" width="1.4" height="1.4"/>
<rect x="289.20" y="917.90" width="1.4" height="1.4"/>
<rect x="289.20" y="921.10" width="1.4" height="1.4"/>
<rect x="292.40" y="898.70" width="1.4" height="1.4"/>
<rect x="292.40" y="901.90" width="1.4" height="1.4"/>
<rect x="292.40" y="905.10" width="1.4" height="1.4"/>
<rect x="292.40" y="908.30" width="1.4" height="1.4"/>
<rect x="292.40" y="911.50" width="1.4" height="1.4"/>
<rect x="292.40" y="914.70" width="1.4" height="1.4"/>
<rect x="292.40" y="917.90" width="1.4" height="1.4"/>
<rect x="292.40" y="921.10" width="1.4" height="1.4"/>
<rect x="292.40" y="924.30" width="1.4" height="1.4"/>
<rect x="295.60" y="895.50" width="1.4" height="1.4"/>
<rect x="295.60" y="898.70" width="1.4" height="1.4"/>
<rect x="295.60" y="901.90" width="1.4" height="1.4"/>
<rect x="295.60" y="905.10" width="1.4" height="1.4"/>
<rect x="295.60" y="908.30" width="1.4" height="1.4"/>
<rect x="295.60" y="911.50" width="1.4" height="1.4"/>
<rect x="295.60" y="914.70" width="1.4" height="1.4"/>
<rect x="295.60" y="917.90" width="1.4" height="1.4"/>
<rect x="295.60" y="921.10" width="1.4" height="1.4"/>
<rect x="295.60" y="924.30" width="1.4" height="1.4"/>
<rect x="295.60" y="927.50" width="1.4" height="1.4"/>
<rect x="298.80" y="895.50" width="1.4" height="1.4"/>
<rect x="298.80" y="898.70" width="1.4" height="1.4"/>
<rect x="298.80" y="901.90" width="1.4" height="1.4"/>
<rect x="298.80" y="905.10" width="1.4" height="1.4"/>
<rect x="298.80" y="917.90" width="1.4" height="1.4"/>
<rect x="298.80" y="921.10" width="1.4" height="1.4"/>
<rect x="298.80" y="924.30" width="1.4" height="1.4"/>
<rect x="298.80" y="927.50" width="1.4" height="1.4"/>
<rect x="302.00" y="895.50" width="1.4" height="1.4"/>
<rect x="302.00" y="898.70" width="1.4" height="1.4"/>
<rect x="302.00" y="901.90" width="1.4" height="1.4"/>
<rect x="302.00" y="905.10" width="1.4" height="1.4"/>
<rect x="302.00" y="917.90" width="1.4" height="1.4"/>
<rect x="302.00" y="921.10" width="1.4" height="1.4"/>
<rect x="302.00" y="924.30" width="1.4" height="1.4"/>
<rect x="302.00" y="927.50" width="1.4" height="1.4"/>
<rect x="305.20" y="895.50" width="1.4" height="1.4"/>
<rect x="305.20" y="898.70" width="1.4" height="1.4"/>
<rect x="305.20" y="901.90" width="1.4" height="1.4"/>
<rect x="305.20" y="905.10" width="1.4" height="1.4"/>
<rect x="305.20" y="917.90" width="1.4" height="1.4"/>
<rect x="305.20" y="921.10" width="1.4" height="1.4"/>
<rect x="305.20" y="924.30" width="1.4" height="1.4"/>
<rect x="305.20" y="927.50" width="1.4" height="1.4"/>
<rect x="308.40" y="895.50" width="1.4" height="1.4"/>
<rect x="308.40" y="898.70" width="1.4" height="1.4"/>
<rect x="308.40" y="901.90" width="1.4" height="1.4"/>
<rect x="308.40" y="905.10" width="1.4" height="1.4"/>
<rect x="308.40" y="908.30" width="1.4" height="1.4"/>
<rect x="308.40" y="911.50" width="1.4" height="1.4"/>
<rect x="308.40" y="914.70" width="1.4" height="1.4"/>
<rect x="308.40" y="917.90" width="1.4" height="1.4"/>
<rect x="308.40" y="921.10" width="1.4" height="1.4"/>
<rect x="308.40" y="924.30" width="1.4" height="1.4"/>
<rect x="308.40" y="927.50" width="1.4" height="1.4"/>
<rect x="311.60" y="898.70" width="1.4" height="1.4"/>
<rect x="311.60" y="901.90" width="1.4" height="1.4"/>
<rect x="311.60" y="905.10" width="1.4" height="1.4"/>
<rect x="311.60" y="908.30" width="1.4" height="1.4"/>
<rect x="311.60" y="911.50" width="1.4" height="1.4"/>
<rect x="311.60" y="914.70" width="1.4" height="1.4"/>
<rect x="311.60" y="917.90" width="1.4" height="1.4"/>
<rect x="311.60" y="921.10" width="1.4" height="1.4"/>
<rect x="311.60" y="924.30" width="1.4" height="1.4"/>
<rect x="314.80" y="901.90" width="1.4" height="1.4"/>
<rect x="314.80" y="905.10" width="1.4" height="1.4"/>
<rect x="314.80" y="908.30" width="1.4" height="1.4"/>
<rect x="314.80" y="911.50" width="1.4" height="1.4"/>
<rect x="314.80" y="914.70" width="1.4" height="1.4"/>
<rect x="314.80" y="917.90" width="1.4" height="1.4"/>
<rect x="314.80" y="921.10" width="1.4" height="1.4"/>
<rect x="318.00" y="905.10" width="1.4" height="1.4"/>
<rect x="318.00" y="908.30" width="1.4" height="1.4"/>
<rect x="318.00" y="911.50" width="1.4" height="1.4"/>
<rect x="318.00" y="914.70" width="1.4" height="1.4"/>
<rect x="318.00" y="917.90" width="1.4" height="1.4"/>
</g>
<rect x="298" y="907.5" width="9.5" height="9.5" fill="#fff" stroke-width="1"/>
<circle cx="302.7" cy="912.2" r="1.2"/>
<!-- top box -->
<path d="M279 857 Q279 840 285 838" />
<path d="M327 857 Q327 840 321 838" />
<rect x="285.1" y="823.6" width="35.9" height="32.2" rx="2" fill="#fff"/>
<rect x="293.4" y="820.8" width="20.3" height="3" fill="#fff"/>
<line x1="285.5" y1="842" x2="320.5" y2="842"/>
<circle cx="295.3" cy="849.4" r="4.6" fill="#222"/><circle cx="295.3" cy="849.4" r="2.5" fill="none" stroke="#888"/>
<circle cx="309.1" cy="849.4" r="4.6" fill="#222"/><circle cx="309.1" cy="849.4" r="2.5" fill="none" stroke="#888"/>
<!-- small parts -->
<path d="M313 858 L330 870 L345 893 L338 898 L322 880" fill="#fff"/>
<rect x="333" y="886" width="9" height="13" transform="rotate(35 337 892)" fill="#fff"/>
<circle cx="283.3" cy="872.4" r="23" fill="#fff" stroke-width="1.2"/>
<circle cx="283.3" cy="872.4" r="21" fill="none" stroke="#9a9ad0"/>
<circle cx="321.1" cy="872.4" r="13.8" fill="#fff" stroke-width="1.2"/>
<circle cx="321.1" cy="872.4" r="9.2" fill="#fff"/>
<!-- latch left -->
<rect x="247" y="853" width="11" height="9" transform="rotate(-35 252 858)" fill="#222"/>
<line x1="256" y1="853" x2="262" y2="849"/>
<!-- gauge -->
<path d="M332.2 808 L322 831" stroke-width="3.5"/>
<path d="M332.2 808 L322 831" stroke="#fff" stroke-width="1.5"/>
<circle cx="332.2" cy="807.9" r="9.2" fill="#fff" stroke-width="1.3"/>
<circle cx="332.2" cy="807.9" r="6.5" fill="none" stroke="#444"/>
<circle cx="332.2" cy="807.9" r="3.8" fill="#c8c8e8" stroke="#555"/>
<path d="M340 812 L343 813 L340 816" />
<!-- cable gland -->
<path d="M354 963.5 L368 977" stroke-width="10.5" stroke-linecap="butt"/>
<path d="M354 963.5 L368 977" stroke="#d4d4ec" stroke-width="8.3" stroke-linecap="butt"/>
<path d="M357 960 L350 967 M361 963.5 L354 970.5 M365 967 L358 974 M368.5 970.5 L362 977" stroke="#333" stroke-width="1"/>
<path d="M345.5 966 L358.5 951.5" stroke-width="4.2"/>
<path d="M368 977 L389.5 995.5" stroke-width="7" stroke-linecap="round"/>
<path d="M373 978.5 L369 983 M378 983 L374 987.5 M383 987.5 L379 992" stroke="#888" stroke-width="0.8"/>
</g>
<!-- top dims -->
<g stroke="#1b4a8c" stroke-width="1.1" fill="#1b4a8c">
<line x1="212.7" y1="748.4" x2="212.7" y2="828"/>
<line x1="392.8" y1="748.4" x2="392.8" y2="828"/>
<line x1="212.7" y1="755.8" x2="392.8" y2="755.8"/>
<path d="M212.7 755.8 L223.7 753.5 L223.7 758.1 Z" stroke="none"/>
<path d="M392.8 755.8 L381.8 753.5 L381.8 758.1 Z" stroke="none"/>
<line x1="161" y1="803.2" x2="224" y2="803.2"/>
<line x1="161" y1="1001.5" x2="226" y2="1001.5"/>
<line x1="169.7" y1="803.2" x2="169.7" y2="1001.5"/>
<path d="M169.7 803.2 L167.4 814.2 L172 814.2 Z" stroke="none"/>
<path d="M169.7 1001.5 L167.4 990.5 L172 990.5 Z" stroke="none"/>
</g>
<g fill="#111" font-size="16" stroke="#111" stroke-width="0.3">
<text x="288.7" y="753.3">571</text>
<text transform="translate(165 902) rotate(-90)" text-anchor="middle">630</text>
</g>


<!-- ===== ISO VIEW ===== -->
<g id="iso" fill="none" stroke="#151515" stroke-width="1" stroke-linejoin="round">
<!-- base plate -->
<path d="M641 1082 Q634 1098 645 1114 Q655 1123 688 1130 L762 1156 Q776 1162 790 1156 L886 1101 Q897 1090 887 1081 L840 1061 L760 1055 L700 1080 Z" fill="#fff" stroke-width="1.1"/>
<path d="M660 1100 L764 1149.5 M790 1150.5 L880 1098" stroke="#8080c0" stroke-width="1.1"/>
<path d="M662 1097.5 L765 1146.5 M789 1147.5 L878 1095.5" stroke="#444" stroke-width="0.8"/>
<path d="M652 1108 Q645 1112 650 1118 Q660 1120 668 1116" fill="#fff"/>
<!-- left big wheel -->
<path d="M638.3 1098 Q637 1082 650 1080 Q662 1080 670 1096 L640 1110 Z" fill="#fff" stroke-width="1.6"/>
<path d="M641 1097 Q641 1086 650 1085 Q659 1085 666 1098" stroke="#7b7bbd" stroke-width="3"/>
<path d="M643 1099 Q644 1090 651 1089 Q658 1090 663 1099" stroke="#444" stroke-width="1"/>
<path d="M638.3 1092 Q636 1108 645 1114 Q655 1123 688 1130 L742 1128 L669.5 1096 Q660 1090 650 1089 Q640 1089 638.3 1092 Z" fill="#fff" stroke="none"/>
<path d="M669.5 1096 L742 1128 M640.4 1112.8 Q648 1122 688 1130" stroke-width="1.2"/>
<path d="M638.3 1092 Q636 1104 640.4 1112.8" stroke-width="1.2"/>
<path d="M665.4 1101.3 L718.4 1128.4 M667 1099 L720 1126" stroke="#7b7bbd" stroke-width="1"/>
<ellipse cx="649.8" cy="1107" rx="2.2" ry="2.6" stroke-width="1.4"/>
<path d="M650 1120 Q660 1125 668 1122" stroke="#444"/>
<!-- casters -->
<path d="M765 1160 Q768 1166 776 1167 L780 1172 M789 1158 L793 1166" stroke-width="1.1"/>
<ellipse cx="782" cy="1180" rx="9.5" ry="14.5" transform="rotate(-25 782 1180)" fill="#fff" stroke-width="1.4"/>
<ellipse cx="783" cy="1180" rx="6" ry="10.5" transform="rotate(-25 783 1180)" fill="#dcdcf0" stroke="#555"/>
<path d="M775 1164 L777 1181 M780 1163 L782 1179" stroke-width="1"/>
<path d="M787 1162 L800 1168 L803 1173 L792 1172 Z" fill="#fff" stroke-width="1.1"/>
<path d="M878 1100 Q880 1106 884 1108 M893 1095 L896 1104" stroke-width="1.1"/>
<ellipse cx="886.5" cy="1117.5" rx="9.5" ry="14.5" transform="rotate(-25 886.5 1117.5)" fill="#fff" stroke-width="1.4"/>
<ellipse cx="887.5" cy="1117.5" rx="6" ry="10.5" transform="rotate(-25 887.5 1117.5)" fill="#dcdcf0" stroke="#555"/>
<path d="M880 1102 L881 1118 M885 1100 L887 1116" stroke-width="1"/>
<ellipse cx="775" cy="1150" rx="3" ry="2.6" fill="#222"/>
<ellipse cx="879.3" cy="1090.2" rx="3" ry="2.6" fill="#222"/>
<!-- foot pedal & cable -->
<path d="M705 1048.3 L677 1066 Q670 1072 674 1076 Q677 1078 684 1076.4 L718 1078.5 L712 1064 Z" fill="#fff" stroke-width="1.1"/>
<path d="M684 1076.4 L708 1060 M695 1069 L699 1076 M699 1067 L703 1075" stroke-width="1"/>
<path d="M680 1071 L682 1075 M683 1070 L685 1075" stroke="#8080c0"/>
<circle cx="716.3" cy="1070.2" r="3.2" fill="#1a1a1a"/>
<path d="M680 1099.3 Q698 1104 703 1092 Q706 1085 704.9 1078" stroke-width="1.1"/>
<!-- tank body -->
<path d="M704.5 905 V1110 A67 20.5 0 0 0 838.5 1110 V915 Z" fill="#fff" stroke="none"/>
<path d="M704.5 905 V1110 A67 20.5 0 0 0 838.5 1110 V915" stroke-width="1.6"/>
<path d="M702.8 958.0 A67.6 20 0 0 0 838.0 958.0" stroke-width="1.3"/>
<path d="M702.8 961.0 A67.6 20 0 0 0 838.0 961.0" stroke="#8080c0" stroke-width="1.1"/>
<path d="M702.8 962.5 A67.6 20 0 0 0 838.0 962.5" stroke="#333" stroke-width="0.9"/>
<path d="M702.8 999.7 A67.6 20 0 0 0 838.0 999.7" stroke-width="1.3"/>
<path d="M702.8 1002.7 A67.6 20 0 0 0 838.0 1002.7" stroke="#8080c0" stroke-width="1.1"/>
<path d="M702.8 1004.2 A67.6 20 0 0 0 838.0 1004.2" stroke="#333" stroke-width="0.9"/>
<path d="M702.8 1044.4 A67.6 20 0 0 0 838.0 1044.4" stroke-width="1.3"/>
<path d="M702.8 1047.4 A67.6 20 0 0 0 838.0 1047.4" stroke="#8080c0" stroke-width="1.1"/>
<path d="M702.8 1048.9 A67.6 20 0 0 0 838.0 1048.9" stroke="#333" stroke-width="0.9"/>
<path d="M702.8 1077.5 A67.6 20 0 0 0 838.0 1077.5" stroke-width="1.3"/>
<path d="M702.8 1080.5 A67.6 20 0 0 0 838.0 1080.5" stroke="#8080c0" stroke-width="1.1"/>
<path d="M702.8 1082.0 A67.6 20 0 0 0 838.0 1082.0" stroke="#333" stroke-width="0.9"/>

<!-- lid -->
<path d="M703 890 A69 51 0 0 0 841 890 L839 915 L703 912 Z" fill="#fff" stroke="none"/>
<ellipse cx="772" cy="890" rx="69" ry="51" fill="#fff" stroke-width="1.3"/>
<path d="M703.5 910 C706 936 740 944.5 771 944.5 C806 944.5 836 936 838.5 915" stroke-width="1.1"/>
<ellipse cx="772" cy="889" rx="66" ry="45" stroke="#7b7bbd" stroke-width="1.1"/>
<ellipse cx="772" cy="889" rx="64.5" ry="43.5" stroke="#333" stroke-width="0.8"/>
<ellipse cx="772" cy="889" rx="63" ry="41" stroke="#7b7bbd" stroke-width="1.1"/>
<ellipse cx="772" cy="889" rx="58" ry="28" stroke="#8080c0" stroke-width="1"/>
<ellipse cx="772" cy="889" rx="56" ry="23" stroke="#8080c0" stroke-width="1"/>
<!-- latches -->
<path d="M703 890 Q697 895 699 902 L700 918 Q698 930 703 937 M698 906 L705 908 M698 920 L704 926" stroke-width="1.5"/>
<path d="M840 883 Q846 888 845 898 L844 918 Q846 930 841 937 M840 900 L847 902 M841 920 L846 926" stroke-width="1.5"/>
<!-- cage -->
<path d="M717.7 877.5 Q716 860 734 849 L760 842 L812 838 Q826 845 826.6 876 Q800 905 770.6 904.5 Q745 904 717.7 877.5 Z" fill="#fff" stroke="none"/>
<g stroke-width="1.5">
<path d="M824.4 870.3 Q827.8 854.5 801.5 858.0"/>
<path d="M825.1 871.9 Q828.6 855.4 801.9 858.7" stroke-width="0.8"/>
<path d="M826.1 877.3 Q829.6 858.1 802.5 861.1"/>
<path d="M826.0 878.9 Q829.5 859.0 802.4 861.8" stroke-width="0.8"/>
<path d="M824.1 884.2 Q827.5 861.7 801.4 864.2"/>
<path d="M823.2 885.8 Q826.5 862.5 800.8 864.9" stroke-width="0.8"/>
<path d="M818.6 890.7 Q821.6 865.1 798.2 867.1"/>
<path d="M816.9 892.0 Q819.8 865.8 797.3 867.7" stroke-width="0.8"/>
<path d="M809.9 896.2 Q812.4 867.9 793.3 869.5"/>
<path d="M807.6 897.3 Q809.9 868.5 791.9 870.0" stroke-width="0.8"/>
<path d="M798.7 900.4 Q800.4 870.1 786.9 871.4"/>
<path d="M795.8 901.2 Q797.4 870.5 785.3 871.8" stroke-width="0.8"/>
<path d="M785.6 903.1 Q786.5 871.5 779.5 872.6"/>
<path d="M782.4 903.5 Q783.1 871.7 777.7 872.8" stroke-width="0.8"/>
<path d="M771.6 904.0 Q771.6 872.0 771.5 873.0"/>
<path d="M768.3 904.0 Q768.1 872.0 769.6 873.0" stroke-width="0.8"/>
<path d="M757.6 903.1 Q756.7 871.5 763.5 872.6"/>
<path d="M754.5 902.6 Q753.3 871.3 761.7 872.4" stroke-width="0.8"/>
<path d="M744.5 900.4 Q742.8 870.1 756.1 871.4"/>
<path d="M741.7 899.6 Q739.8 869.7 754.5 871.0" stroke-width="0.8"/>
<path d="M733.3 896.2 Q730.8 867.9 749.7 869.5"/>
<path d="M731.0 895.0 Q728.4 867.3 748.4 869.0" stroke-width="0.8"/>
<path d="M724.6 890.7 Q721.6 865.1 744.8 867.1"/>
<path d="M723.0 889.2 Q719.9 864.3 743.9 866.4" stroke-width="0.8"/>
<path d="M719.1 884.2 Q715.7 861.7 741.6 864.2"/>
<path d="M718.3 882.6 Q714.9 860.9 741.2 863.5" stroke-width="0.8"/>
<path d="M717.1 877.3 Q713.6 858.1 740.5 861.1"/>
<path d="M717.2 875.7 Q713.7 857.3 740.5 860.4" stroke-width="0.8"/>
<path d="M718.8 870.3 Q715.4 854.5 741.5 858.0"/>
<path d="M719.7 868.8 Q716.4 853.7 742.0 857.3" stroke-width="0.8"/>
</g>
<path d="M720 869 C730 887 812 887 824 868" stroke="#8080c0"/>
<path d="M717.7 877.5 C719 898 745 904.5 770.6 904.5 C800 904.5 825 896 826.6 876" stroke-width="1.9"/>
<path d="M719 881 C721 900 745 907.5 770.6 907.5 C800 907.5 824 899 825 880" stroke-width="1"/>
<rect x="741.5" y="896" width="4" height="5" fill="#fff"/><rect x="787" y="899" width="4" height="5" fill="#fff"/><rect x="819" y="881" width="4" height="5" fill="#fff"/>
<!-- motor -->
<path d="M748.2 808 V872 Q763 880 778 872 V808 Z" fill="#fff"/>
<path d="M749 834 V872 Q763 879 778 872 V834 Z" fill="#1a1a1a" stroke="none"/>
<g stroke="#fff" stroke-width="0.7"><line x1="752" y1="836" x2="752" y2="873"/><line x1="755.5" y1="836" x2="755.5" y2="875"/><line x1="759" y1="836" x2="759" y2="876"/><line x1="762.5" y1="836" x2="762.5" y2="876"/><line x1="766" y1="836" x2="766" y2="876"/><line x1="769.5" y1="836" x2="769.5" y2="875"/><line x1="773" y1="836" x2="773" y2="874"/></g>
<path d="M748.2 808 V828 Q773 842 798 828 V808" fill="#fff" stroke-width="1.2"/>
<path d="M748.2 828 Q773 842 798 828 M748.5 831 Q773 845 797.5 831 M749 834 Q773 848 797 834" stroke-width="1.1"/>
<ellipse cx="773.2" cy="808.2" rx="25" ry="11" fill="#fff" stroke-width="1.2"/>
<ellipse cx="773.2" cy="808.2" rx="19" ry="8" fill="#1a1a1a"/>
<path d="M773.2 803.5 L780.5 808.2 L773.2 812.9 L765.9 808.2 Z" fill="#fff" stroke="none"/>
<path d="M773.2 806 L776.5 808.2 L773.2 810.4 L769.9 808.2 Z" fill="#1a1a1a" stroke="none"/>
<!-- terminal box -->
<path d="M777.7 842 L787 836 L806 844 V862 L797 869 L777.7 866 Z" fill="#fff" stroke-width="1.2"/>
<path d="M786 846 L796 842 L805 848 V860 L797 866 L786 863 Z" fill="#fff" stroke-width="1.1"/>
<line x1="777.7" y1="842" x2="786" y2="846"/>
<!-- back cylinder & knob -->
<path d="M750.5 796 V774 Q760 766 773.2 774 V796" fill="#fff"/>
<ellipse cx="761" cy="774" rx="10" ry="4.5" fill="#fff"/>
<path d="M753 786 Q762 792 772 786" stroke="#444"/>
<rect x="775" y="784" width="8" height="9" fill="#fff"/><rect x="781" y="781" width="5" height="10" fill="#fff"/>
<!-- control box -->
<path d="M699 771 L707 766.6 L718 770 V823 L709 826 L699 821 Z" fill="#fff"/>
<line x1="709" y1="770" x2="709" y2="826"/>
<line x1="713" y1="772" x2="713" y2="824" stroke="#8080c0"/>
<!-- column -->
<rect x="718" y="797" width="28" height="56" fill="#fff"/>
<g stroke="#9a9ad0"><line x1="724" y1="800" x2="724" y2="852"/><line x1="730" y1="800" x2="730" y2="852"/><line x1="738" y1="800" x2="738" y2="852"/></g>
<ellipse cx="731.8" cy="799" rx="14.3" ry="6" fill="#fff" stroke-width="1.1"/>
<ellipse cx="731.8" cy="796" rx="11.5" ry="4.5" fill="#fff" stroke-width="1.1"/>
<path d="M716 852 Q731 860 746 852" />
<path d="M718 852 V860 H726 V852" fill="#fff"/>
<!-- bulb -->
<path d="M719.5 793.8 C711 785 707.5 774 708.1 762.8 C709 742 719 729.5 731.6 729.5 C744 729.5 754.8 742 755.8 762.8 C756.5 774 752 785 743.7 793.8 Z" fill="#fff" stroke-width="1.2"/>
<path d="M710 752 Q731 766 753 752" stroke="#8080c0"/>
<!-- handle frame tube -->
<path d="M714 857.5 L667 881 Q657 887 660 898 L671 928 Q675 936 684 940.5 L711 954.5 Q721.5 960 721.5 971 V1128" stroke-width="10.2" stroke-linecap="round"/>
<path d="M714 857.5 L667 881 Q657 887 660 898 L671 928 Q675 936 684 940.5 L711 954.5 Q721.5 960 721.5 971 V1128" stroke="#fff" stroke-width="8" stroke-linecap="round"/>
<path d="M670 878 L673 884 M658 914 L665 912 M674 930 L679 925 M710 950 L706 957" stroke="#b8b8dc"/>
<line x1="721.5" y1="975" x2="721.5" y2="1128" stroke="#bbb" stroke-width="0.6"/>
<circle cx="716.2" cy="998.8" r="1.6" fill="#222"/>
<circle cx="716.2" cy="1030.8" r="1.6" fill="#222"/>
<path d="M703 985 Q704 1000 716 1005 M703 1040 Q705 1050 712 1055" stroke="#555"/>
<!-- handle on tank -->
<path d="M813 950.5 L836.5 939.5 L837.5 946 L815 957 Z" fill="#c8c8e4" stroke-width="1.3"/>
<line x1="814" y1="953.5" x2="837" y2="942.5" stroke-width="1.1"/>
<path d="M802.5 952 Q801 957 804 959 L815 959.7 L816 952.5 L807 948.5 Z" fill="#fff" stroke-width="1.4"/>
<rect x="807" y="953" width="5" height="3.5" fill="#fff" stroke-width="0.9"/>
<path d="M828 935.5 L831.5 933.6 Q836 936 837 941 L833 943 L828 940 Z" fill="#fff" stroke-width="1.3"/>
<!-- cable gland -->
<rect x="837.3" y="999.4" width="6.7" height="25.9" rx="1" fill="#8c8c94" stroke-width="1.2"/>
<rect x="844" y="1001.5" width="4.5" height="21.5" fill="#d0d0ea"/>
<rect x="848.5" y="1004" width="4.5" height="17" fill="#e2e2f4"/>
<rect x="853" y="1005.5" width="4.5" height="14.5" fill="#c8c8e6"/>
<rect x="857.5" y="1006.5" width="3" height="12.5" fill="#e2e2f4"/>
<rect x="860.5" y="1005" width="2.5" height="15" rx="1" fill="#c8c8e6"/>
<rect x="862.8" y="1008.2" width="31.7" height="9.4" rx="1" fill="#151515"/>
<g stroke="#777" stroke-width="0.8"><line x1="870" y1="1010" x2="870" y2="1016"/><line x1="877" y1="1010" x2="877" y2="1016"/><line x1="884" y1="1010" x2="884" y2="1016"/></g>
<rect x="889.5" y="1009" width="4" height="7.8" fill="#999" stroke="none"/>
<!-- inlet -->
<ellipse cx="819.1" cy="1039.9" rx="15.2" ry="12.5" transform="rotate(-30 819.1 1039.9)" fill="#fff" stroke-width="1.3"/>
<path d="M813.5 1032 L824 1028 L833 1041 L826 1052 L812 1049 Z" fill="#fff" stroke-width="1.1"/>
<line x1="815" y1="1040" x2="826" y2="1046" stroke="#8080c0"/>
<ellipse cx="829.5" cy="1045.1" rx="5.5" ry="7.5" transform="rotate(-20 829.5 1045.1)" fill="#fff" stroke-width="1.6"/>
<circle cx="825.9" cy="1028" r="4" fill="#b8b8dc" stroke-width="1.3"/>
<circle cx="808.5" cy="1038" r="1.1" fill="#222"/><circle cx="808.5" cy="1051" r="1.1" fill="#222"/>
</g>

<!-- frame -->
<g fill="none" stroke="#1c1c1c" stroke-width="1.4">
<rect x="50.5" y="50.5" width="957.3" height="1396.2"/>
<line x1="50" y1="1300.3" x2="1008" y2="1300.3"/>
<line x1="50" y1="1330.5" x2="554.3" y2="1330.5"/>
<line x1="50" y1="1360.8" x2="1008" y2="1360.8"/>
<line x1="50" y1="1390.8" x2="1008" y2="1390.8"/>
<line x1="201.3" y1="1300" x2="201.3" y2="1330.5"/>
<line x1="312.2" y1="1300" x2="312.2" y2="1330.5"/>
<line x1="312.2" y1="1360.8" x2="312.2" y2="1390.8"/>
<line x1="554.3" y1="1300" x2="554.3" y2="1390.8"/>
<line x1="642.5" y1="1360.8" x2="642.5" y2="1390.8"/>
<line x1="733" y1="1360.8" x2="733" y2="1390.8"/>
<line x1="854.3" y1="1360.8" x2="854.3" y2="1390.8"/>
<line x1="944.5" y1="1360.8" x2="944.5" y2="1390.8"/>
<line x1="161.3" y1="1390.8" x2="161.3" y2="1446.7"/>
<line x1="513.6" y1="1390.8" x2="513.6" y2="1446.7"/>
</g>
<g fill="none" stroke="#8686b8" stroke-width="0.9">
<line x1="602" y1="1300.5" x2="602" y2="1360.5"/>
<line x1="945" y1="1300.5" x2="945" y2="1360.5"/>
<line x1="514" y1="1410.6" x2="1007.5" y2="1410.6"/>
<line x1="596.1" y1="1410.6" x2="596.1" y2="1446.5"/>
<line x1="678.3" y1="1410.6" x2="678.3" y2="1446.5"/>
<line x1="761.2" y1="1410.6" x2="761.2" y2="1446.5"/>
<line x1="843.2" y1="1410.6" x2="843.2" y2="1446.5"/>
<line x1="925.8" y1="1410.6" x2="925.8" y2="1446.5"/>
</g>
<g fill="#111" font-size="14" stroke="#111" stroke-width="0.25">
<text x="56" y="1321">N° dis.</text>
<text x="208" y="1319">Foglio:</text>
<text x="258" y="1321">1 /1</text>
<text x="318" y="1321">Codice:</text>
<text x="56" y="1351">Descrizione:</text>
<text x="56" y="1381">Mat.</text>
<text x="318" y="1381">Tratt.</text>
<text x="564.5" y="1321">Rev:</text>
<text x="575.5" y="1346">-</text>
<text x="607" y="1321">Modifica:</text>
<text x="948.5" y="1321">Data:</text>
<text x="560" y="1381">Dis. da: GL</text>
<text x="648" y="1380">Appr. da:</text>
<text x="738" y="1381">Data: 27/02/2019</text>
<text x="859.6" y="1381">Scala</text>
<text x="905" y="1381">1:16</text>
<text x="528.8" y="1406.5">Tolleranze generali:</text>
</g>
<g fill="#111" font-size="11.2" stroke="#111" stroke-width="0.2">
<text x="172.4" y="1409.5">Questo documento è protetto dai diritti sul copyright della società</text>
<text x="172.4" y="1422.3">DU-PUY S.R.L. Tale disegno non può essere riprodotto e diffuso in</text>
<text x="172.4" y="1435">assenza di autorizzazione della stessa DU-PUY S.R.L.</text>
</g>
<g fill="#111" font-size="12" text-anchor="middle" stroke="#111" stroke-width="0.2">
<text x="554.9" y="1427.3">da 0 a 6:</text><text x="554.9" y="1439.7">±0.2</text>
<text x="637.2" y="1427.3">da 6 a 30:</text><text x="637.2" y="1439.7">±0.5</text>
<text x="719.8" y="1427.3">da 30 a 120:</text><text x="719.8" y="1439.7">±0.8</text>
<text x="802.2" y="1427.3">da 120 a 315:</text><text x="802.2" y="1439.7">±1.2</text>
<text x="884.5" y="1427.3">da 315 a 1000:</text><text x="884.5" y="1439.7">±2</text>
<text x="966.8" y="1427.3">oltre 1000:</text><text x="966.8" y="1439.7">±3</text>
</g>
<!-- projection symbol -->
<g fill="none" stroke="#111" stroke-width="1.4">
<path d="M959.7 1371.2 L977.6 1367.8 L977.6 1383.5 L959.7 1380.4 Z"/>
<circle cx="992.9" cy="1375.8" r="7.6"/>
<circle cx="992.9" cy="1375.8" r="4.4"/>
</g>
<g stroke="#2b2ba0" stroke-width="1.2">
<line x1="957.3" y1="1375.8" x2="1003.4" y2="1375.8"/>
<line x1="992.9" y1="1366.3" x2="992.9" y2="1385.8"/>
</g>
<!-- logo -->
<g id="logo">
<path d="M53 1405 H77.8 V1429 H53 Z" fill="#6b747e"/>
<path d="M60.5 1410 H71 L68 1415 L71 1419 V1424 H60.5 V1419 L63 1415 Z" fill="#fff"/>
<path d="M60.5 1410 L65.8 1416.5 L71 1410 Z M60.5 1424 L65.8 1417.5 L71 1424 Z" fill="#fff"/>
<rect x="53" y="1416" width="24.8" height="2" fill="#fff"/>
<circle cx="65.6" cy="1417" r="4.6" fill="#d93a3f"/>
<path d="M79.8 1405 H89 Q93.7 1405 93.7 1410 V1424 Q93.7 1429 89 1429 H79.8 Z M84.3 1408.5 V1425 H86.5 Q88 1425 88 1423.5 V1410 Q88 1408.5 86.5 1408.5 Z" fill="#d93a3f" fill-rule="evenodd"/>
<path d="M96.3 1405 H101 V1424 H104.8 V1405 H110.3 V1424 Q110.3 1429 105 1429 H101 Q96.3 1429 96.3 1424 Z" fill="#d93a3f"/>
<circle cx="110.8" cy="1417.5" r="2.8" fill="#fff"/>
<path d="M111.8 1405 H121 Q126.2 1405 126.2 1410 V1415 Q126.2 1420 121 1420 H116.5 V1429 H111.8 Z M116.5 1408.5 V1416.5 H119.5 Q121.3 1416.5 121.3 1415 V1410 Q121.3 1408.5 119.5 1408.5 Z" fill="#6b747e" fill-rule="evenodd"/>
<path d="M128.3 1405 H133 V1424 H136.8 V1405 H142 V1424 Q142 1429 137 1429 H133 Q128.3 1429 128.3 1424 Z" fill="#6b747e"/>
<path d="M143 1405 H148 L150.8 1413 L153.5 1405 H158.5 L153.2 1418 V1429 H148.5 V1418 Z" fill="#6b747e"/>
<text x="53.5" y="1434.8" font-size="4.2" fill="#777" letter-spacing="2.6">TAILOR MADE VACUUMS</text>
</g>
</svg>
</body></html>
